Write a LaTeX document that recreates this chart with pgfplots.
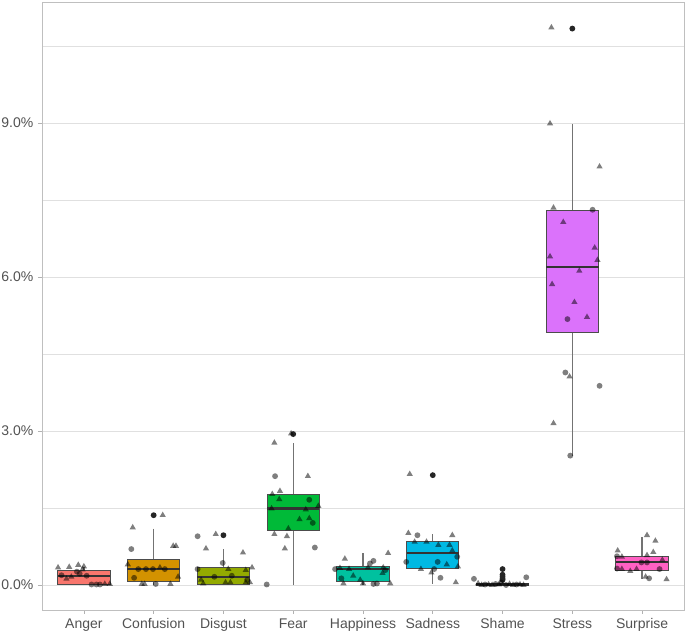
\documentclass[border=0pt]{standalone}
\usepackage{fontspec}
\setmainfont{Liberation Sans}
\usepackage{pgfplots}
\pgfplotsset{compat=1.18}
\usepgfplotslibrary{statistics}
\definecolor{cAnger}{HTML}{F8766D}
\definecolor{cConf}{HTML}{D39200}
\definecolor{cDisg}{HTML}{93AA00}
\definecolor{cFear}{HTML}{00BA38}
\definecolor{cHapp}{HTML}{00C19F}
\definecolor{cSad}{HTML}{00B9E3}
\definecolor{cShame}{HTML}{619CFF}
\definecolor{cStress}{HTML}{DB72FB}
\definecolor{cSurp}{HTML}{FF61C3}
\begin{document}
\begin{tikzpicture}
\path[use as bounding box] (-31.5pt,-18.75pt) rectangle (482.25pt,457.5pt);
\begin{axis}[
  scale only axis, width=481.5pt, height=456pt,
  xmin=0.4, xmax=9.6, ymin=-0.487, ymax=11.358,
  xtick={1,2,3,4,5,6,7,8,9},
  xticklabels={Anger,Confusion,Disgust,Fear,Happiness,Sadness,Shame,Stress,Surprise},
  ytick={0,3,6,9}, yticklabels={0.0\%,3.0\%,6.0\%,9.0\%},
  minor ytick={1.5,4.5,7.5,10.5},
  ymajorgrids, yminorgrids,
  major grid style={black!12, line width=0.5pt},
  minor grid style={black!12, line width=0.4pt},
  axis line style={black!25, line width=0.6pt},
  tick align=outside, major tick length=3pt, minor tick length=0pt,
  tick style={black!30, line width=0.5pt},
  tick pos=left,
  tick label style={font=\fontsize{10.5}{12}\selectfont, text=black!68},
  boxplot/draw direction=y,
  boxplot/every median/.style={line width=1.6pt, draw=black!80},
  boxplot/every whisker/.style={draw=black!55, line width=1pt},
  boxplot/every box/.style={draw=black!70, line width=0.7pt},
]
% boxes
\addplot[fill=cAnger, boxplot prepared={draw position=1, lower whisker=0, lower quartile=0.01, median=0.18, upper quartile=0.29, upper whisker=0.36, box extend=0.75, whisker extend=0}] coordinates {};
\addplot[fill=cConf, boxplot prepared={draw position=2, lower whisker=0, lower quartile=0.07, median=0.32, upper quartile=0.49, upper whisker=1.10, box extend=0.75, whisker extend=0}] coordinates {};
\addplot[fill=cDisg, boxplot prepared={draw position=3, lower whisker=0, lower quartile=0.01, median=0.16, upper quartile=0.34, upper whisker=0.70, box extend=0.75, whisker extend=0}] coordinates {};
\addplot[fill=cFear, boxplot prepared={draw position=4, lower whisker=0, lower quartile=1.06, median=1.49, upper quartile=1.77, upper whisker=2.76, box extend=0.75, whisker extend=0}] coordinates {};
\addplot[fill=cHapp, boxplot prepared={draw position=5, lower whisker=0, lower quartile=0.07, median=0.31, upper quartile=0.37, upper whisker=0.62, box extend=0.75, whisker extend=0}] coordinates {};
\addplot[fill=cSad, boxplot prepared={draw position=6, lower whisker=0.02, lower quartile=0.32, median=0.63, upper quartile=0.84, upper whisker=0.99, box extend=0.75, whisker extend=0}] coordinates {};
\addplot[fill=cShame, boxplot prepared={draw position=7, lower whisker=0, lower quartile=0.0, median=0.01, upper quartile=0.03, upper whisker=0.07, box extend=0.75, whisker extend=0}] coordinates {};
\addplot[fill=cStress, boxplot prepared={draw position=8, lower whisker=2.52, lower quartile=4.92, median=6.20, upper quartile=7.29, upper whisker=8.98, box extend=0.75, whisker extend=0}] coordinates {};
\addplot[fill=cSurp, boxplot prepared={draw position=9, lower whisker=0.12, lower quartile=0.29, median=0.45, upper quartile=0.55, upper whisker=0.94, box extend=0.75, whisker extend=0}] coordinates {};
% outliers
\addplot[only marks, mark=*, mark size=2.2pt, draw opacity=0, mark options={draw opacity=0, fill=black!85}] coordinates {
(2,1.36) (3,0.97) (4,2.94) (6,2.14) (7,0.31) (7,0.20) (7,0.16) (7,0.12) (7,0.10) (8,10.84)};
% jittered circles
\addplot[only marks, mark=*, mark size=2.2pt, draw opacity=0, mark options={draw opacity=0, fill=black, fill opacity=0.5}] coordinates {
(0.90,0.26) (0.94,0.22) (1.04,0.18) (1.11,0.01) (1.18,0.01) (1.23,0.01) (0.68,0.19)
(1.68,0.70) (1.78,0.31) (1.89,0.31) (1.99,0.31) (2.16,0.31) (1.72,0.14) (2.03,0.02)
(2.63,0.95) (2.99,0.43) (2.63,0.31) (2.87,0.16) (3.12,0.18) (3.34,0.10)
(3.62,0.01) (3.74,2.12) (4.23,1.66) (4.28,1.21) (4.31,0.73)
(5.15,0.47) (5.10,0.42) (4.60,0.31) (5.32,0.29) (4.69,0.13) (5.15,0.02) (5.20,0.03)
(5.78,0.97) (6.35,0.55) (5.62,0.45) (6.07,0.45) (6.02,0.31) (6.11,0.14)
(6.59,0.12) (7.34,0.15) (6.75,0.01) (6.90,0.02) (7.05,0.00) (7.20,0.01) (6.98,0.05)
(8.29,7.31) (7.93,5.18) (7.90,4.14) (8.39,3.88) (7.97,2.52)
(8.64,0.56) (8.99,0.44) (9.07,0.44) (8.64,0.32) (9.25,0.31) (9.10,0.13)
};
% jittered triangles
\addplot[only marks, mark=triangle*, mark size=2.7pt, draw opacity=0, mark options={draw opacity=0, fill=black, fill opacity=0.5}] coordinates {
(0.63,0.34) (0.79,0.35) (0.92,0.39) (1.00,0.36) (0.98,0.30) (0.82,0.16) (0.75,0.12) (1.30,0.02) (1.37,0.02)
(2.13,1.36) (1.70,1.12) (2.28,0.76) (2.32,0.76) (1.63,0.40) (2.09,0.34) (1.83,0.02) (1.87,0.02) (2.24,0.02) (2.35,0.16)
(2.89,0.99) (2.75,0.71) (3.28,0.63) (3.07,0.31) (3.32,0.29) (3.41,0.34) (2.68,0.10) (2.71,0.03) (3.03,0.05) (3.10,0.05) (3.32,0.05) (3.38,0.05)
(3.97,2.95) (3.73,2.77) (4.21,2.12) (3.70,1.77) (3.81,1.83) (3.80,1.67) (3.69,1.49) (4.18,1.47) (4.36,1.54) (4.09,1.28) (4.23,1.30) (3.93,1.10) (3.73,0.99) (3.91,0.95) (3.88,0.71)
(4.74,0.51) (5.36,0.62) (4.67,0.33) (4.80,0.31) (5.07,0.34) (5.29,0.34) (5.28,0.23) (4.86,0.18) (4.72,0.03) (4.96,0.10) (5.00,0.03) (5.39,0.03)
(5.67,2.16) (5.65,1.01) (6.28,0.97) (5.74,0.84) (5.91,0.84) (6.08,0.78) (6.24,0.78) (6.28,0.67) (6.20,0.40) (6.36,0.36) (5.83,0.31) (5.98,0.24) (6.33,0.05)
(6.65,0.03) (6.80,0.01) (6.85,0.00) (6.95,0.01) (7.10,0.02) (7.15,0.00) (7.25,0.01) (7.30,0.00) (6.70,0.00)
(7.70,10.86) (7.68,8.99) (8.39,8.15) (7.73,7.35) (7.87,7.07) (8.32,6.57) (7.68,6.40) (8.36,6.33) (8.10,6.12) (7.71,5.86) (8.03,5.51) (8.21,5.22) (7.96,4.06) (7.73,3.15)
(9.07,0.97) (9.19,0.86) (8.65,0.67) (9.16,0.64) (9.07,0.58) (8.71,0.55) (9.29,0.49) (8.71,0.31) (8.83,0.27) (8.92,0.31) (9.05,0.16) (9.35,0.11)
};
\end{axis}
\end{tikzpicture}
\end{document}
